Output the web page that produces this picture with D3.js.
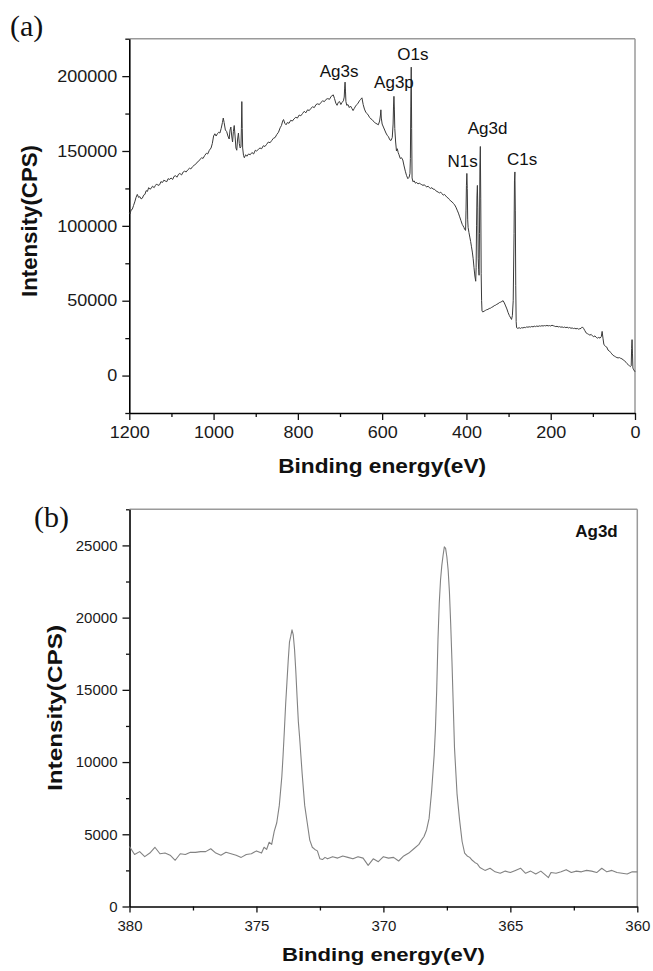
<!DOCTYPE html>
<html>
<head>
<meta charset="utf-8">
<script src="https://cdn.jsdelivr.net/npm/d3@7"></script>
<style>
  body { margin: 0; background: #fff; }
  svg { display: block; }
</style>
</head>
<body>
<div id="chart"></div>
<script>
// ---- (a) survey spectrum: [binding energy eV, intensity CPS]
const surveySpectrum = [
  [1200,109000],[1198,108000],[1196,110500],[1193,111000],[1190,113500],[1187,116000],[1184,119000],[1181,121000],
  [1178,119000],[1175,119500],[1172,118000],[1169,118500],[1166,120500],[1163,121000],[1160,123500],[1157,123000],
  [1154,125500],[1151,124500],[1148,125000],[1145,126500],[1141,125500],[1138,127000],[1135,128000],[1132,127000],
  [1128,127500],[1125,129500],[1121,129000],[1118,130500],[1115,130000],[1111,129500],[1108,131500],[1104,131000],
  [1101,132000],[1097,131000],[1094,133000],[1090,133500],[1087,132500],[1083,134500],[1080,135000],[1076,134000],
  [1072,136000],[1069,136500],[1065,136000],[1061,137500],[1057,138500],[1054,138000],[1050,139500],[1046,140500],
  [1043,141000],[1039,142500],[1036,143000],[1032,144500],[1028,145500],[1025,145000],[1021,147000],[1017,148500],
  [1014,148000],[1010,150500],[1006,152000],[1003,155000],[1000,160000],
  [997,161500],[994,160000],[991,161500],[988,162500],[985,162000],[982,165000],[979,169000],[977,172000],
  [975,169000],[972,164000],[969,163000],[966,160000],[963,158000],[961,164000],[959,166000],[957,160000],
  [955,156000],[953,163000],[951,167000],[949,160000],[947,152000],[945,150500],[943,158000],[941,162000],
  [939,155000],[937,152000],[935,153000],[934,165000],[933,183000],[932,165000],[931,152000],[929,147000],
  [927,145500],[924,147500],[921,146500],[917,148000],[913,147500],[909,149000],[905,148000],[901,150500],
  [898,150000],[894,151000],[890,152000],[886,151500],[882,153500],[878,153000],[874,154500],[870,156000],
  [866,155500],[862,157000],[858,158500],[854,159000],[850,161000],[846,162500],[842,165500],[839,167000],
  [836,170000],[834,171000],[831,168500],[828,167500],[825,169000],[821,168500],[817,170500],[813,170000],
  [809,171500],[805,172500],[801,172000],[797,174000],[793,173500],[789,175000],[785,176500],[781,175500],
  [777,177500],[773,177000],[769,178500],[765,179500],[761,179000],[757,181000],[753,181500],[749,181000],
  [745,182500],[741,183500],[737,183000],[733,184500],[729,185000],[725,184500],[721,186500],[716,187500],
  [713,185000],
  [710,182000],[707,180500],[704,182500],[701,183000],[698,181000],[695,182500],[692,183500],[690,186000],
  [689,192000],[688,196000],[687,190000],[686,183000],[684,180500],[681,181000],[678,179000],[675,180000],
  [672,178500],[669,177000],[666,178500],[663,180000],[660,181000],[657,182000],[654,183500],[651,184500],
  [648,185500],[645,181000],[642,178000],[639,176000],[636,175000],[633,174000],[630,172500],[627,171500],
  [624,171000],[621,170000],[618,169000],[615,168500],[612,168000],[609,167500],[606,170000],[604,174000],
  [603,177500],[602,172000],[600,168000],[597,166000],[594,164000],[591,162000],[588,160500],[585,159500],
  [582,157500],[579,157000],[576,159000],[574,168000],[573,180000],[572,186500],[571,178000],[570,165000],
  [568,156000],[566,150000],[564,151500],[562,149000],[560,147500],[557,145000],[554,145500],[551,144000],
  [548,140000],[545,136500],[542,133500],[539,131500],[536,132500],[534,135000],[533,145000],[532,180000],
  [531,206000],[530,165000],[529,132000],[527,129500],[524,130000],[521,128500],[518,129000],[515,128000],
  [512,128500],[509,128000],[506,127500],[503,127000],[500,127500],[497,126500],[494,126000],[491,126500],
  [488,125500],[485,125000],[482,125500],[479,124500],[476,124500],[473,123500],[470,123000],[467,122500],
  [464,122000],[461,122500],[458,121500],[455,120500],[452,121000],[449,120000],[446,119000],[443,118500],
  [440,117500],[437,116500],[434,116000],[431,115000],[428,114000],[425,112500],[422,110500],[419,108500],
  [416,106000],[413,103500],[410,101000],[408,100000],[406,99000],[404,97500],[402,97000],[401,110000],
  [400,127000],[399,135000],[398,125000],[397,104000],[396,99000],[394,95500],[392,92500],[390,89500],
  [388,86000],[386,82500],[384,78000],[382,72000],[380,66500],[378,63000],[377,72000],[376,100000],
  [375,120000],[374,127000],[373,112000],[372,78000],[371,71000],[370,67000],[369,95000],[368,140000],
  [367,153000],[366,118000],[365,68000],[364,50000],[363,43000],[361,42500],[358,43000],[355,43500],
  [352,44000],[349,44200],[346,44800],[343,45000],[340,45600],[337,46000],[334,46700],[331,47000],
  [328,47600],[325,48000],[322,48700],[319,49000],[316,49500],[313,50000],[310,48500],[307,46500],
  [304,44500],[301,42000],[298,40000],[295,38500],[293,37500],[291,40000],[289,50000],[287,95000],
  [286,130000],[285,136000],[284,110000],[283,60000],[282,36000],[281,32000],[278,31500],[275,32000],
  [272,31500],[269,32000],[266,31800],[263,32200],[260,32000],[257,32500],[254,32300],[251,32600],
  [248,32400],[245,32800],[242,32500],[239,33000],[236,32700],[233,33100],[230,32800],[227,33200],
  [224,33000],[221,33300],[218,33100],[215,33400],[212,33200],[209,33500],[206,33200],[203,33400],
  [200,33100],[197,33600],[194,33300],[191,33000],[188,32700],[185,32900],[182,32500],[179,32700],
  [176,32300],[173,32500],[170,32100],[167,32400],[164,32000],[161,32300],[158,31800],[155,32100],
  [152,31600],[149,31800],[146,31400],[143,31600],[140,31200],[137,31500],[134,31000],[131,31300],
  [128,31500],[125,32500],[122,31500],[119,30000],[116,28500],[113,28000],[110,27500],[107,27000],
  [104,27500],[101,26500],[98,26000],[95,26500],[92,25500],[89,25000],[86,25500],[83,25000],
  [80,26000],[78,29500],[76,25000],[74,21000],[72,20000],[70,19500],[67,19000],[64,17000],
  [61,16500],[58,15500],[55,14500],[52,13500],[49,13000],[46,12500],[43,12000],[40,11800],
  [37,12000],[34,11500],[31,11200],[28,10500],[25,10000],[22,9000],[19,8000],[16,7200],
  [13,6500],[11,6000],[9,6500],[8,18000],[7,24000],[6,15000],[5,5000],[3,3800],[1,3000],[0,2500]
];
const surveyXTicks = [1200, 1000, 800, 600, 400, 200, 0];
const surveyXMinor = [1100, 900, 700, 500, 300, 100];
const surveyYTicks = [0, 50000, 100000, 150000, 200000];
const surveyYMinor = [-25000, 25000, 75000, 125000, 175000, 225000];
const peakNames = ["Ag3s", "Ag3p", "O1s", "N1s", "Ag3d", "C1s"];
const peakLabelEnergy = [702, 572, 527, 409, 350, 268];
const peakLabelIntensity = [199300, 192000, 210700, 139300, 161300, 140700];

// ---- (b) Ag3d high resolution spectrum
const ag3dSpectrum = [
  [380.0,4150],[379.8,3600],[379.6,3800],[379.4,3450],[379.2,3700],[379.0,4100],[378.8,3650],[378.6,3700],
  [378.4,3550],[378.2,3200],[378.0,3650],[377.8,3600],[377.6,3750],[377.4,3750],[377.2,3800],[377.0,3800],
  [376.8,4000],[376.6,3700],[376.4,3550],[376.2,3750],[376.0,3650],[375.8,3550],[375.6,3400],[375.4,3600],
  [375.2,3650],[375.0,3850],[374.8,3700],[374.7,4100],[374.6,3950],[374.5,4450],[374.4,4300],[374.3,5200],
  [374.2,5800],[374.1,7000],[374.0,9000],[373.95,10500],[373.9,12200],[373.85,14000],[373.8,15500],
  [373.75,17000],[373.7,18300],[373.65,18700],[373.6,19150],[373.55,18800],[373.5,17800],[373.45,16300],
  [373.4,14500],[373.35,12800],[373.3,11700],[373.2,9200],[373.1,7000],[373.0,5800],[372.9,4600],
  [372.8,4100],[372.7,3950],[372.6,3850],[372.5,3300],[372.4,3250],[372.3,3400],[372.2,3300],[372.0,3450],
  [371.8,3350],[371.6,3500],[371.4,3400],[371.2,3300],[371.0,3450],[370.8,3350],[370.6,2850],[370.4,3300],
  [370.2,3100],[370.0,3450],[369.8,3350],[369.6,3400],[369.4,3150],[369.2,3500],[369.0,3700],[368.8,4000],
  [368.6,4300],[368.5,4600],[368.4,4850],[368.3,5300],[368.2,6100],[368.1,8000],[368.0,10500],
  [367.95,12300],[367.9,15000],[367.85,18500],[367.8,21000],[367.75,22600],[367.7,23600],[367.65,24300],
  [367.6,24900],[367.55,24800],[367.5,24200],[367.45,23300],[367.4,21800],[367.35,19600],[367.3,17000],
  [367.25,14000],[367.2,11000],[367.1,7800],[367.0,6000],[366.9,4500],[366.8,3700],[366.7,3500],
  [366.6,3400],[366.5,3200],[366.4,3050],[366.3,2950],[366.2,2700],[366.0,2500],[365.8,2650],[365.6,2400],
  [365.4,2300],[365.2,2450],[365.0,2350],[364.8,2500],[364.6,2650],[364.4,2300],[364.2,2450],[364.0,2250],
  [363.8,2450],[363.6,2150],[363.5,2000],[363.4,2350],[363.2,2300],[363.0,2400],[362.8,2550],[362.6,2350],
  [362.4,2450],[362.2,2400],[362.0,2500],[361.8,2450],[361.6,2350],[361.4,2650],[361.2,2400],[361.0,2500],
  [360.8,2350],[360.6,2300],[360.4,2250],[360.2,2400],[360.0,2400]
];
const ag3dXTicks = [380, 375, 370, 365, 360];
const ag3dXMinor = [377.5, 372.5, 367.5, 362.5];
const ag3dYTicks = [0, 5000, 10000, 15000, 20000, 25000];
const ag3dYMinor = [2500, 7500, 12500, 17500, 22500, 27500];
const ag3dLabel = { text: "Ag3d", energy: 360.77, intensity: 25600 };

const width = 653, height = 971;
const svg = d3.select("#chart").append("svg")
  .attr("width", width)
  .attr("height", height);

function drawPanel(p) {
  const x = d3.scaleLinear().domain(p.xDomain).range([p.left, p.right]);
  const y = d3.scaleLinear().domain(p.yDomain).range([p.bottom, p.top]);
  const g = svg.append("g");

  // grey top / right frame
  g.append("line").attr("x1", p.left).attr("x2", p.right).attr("y1", p.top).attr("y2", p.top)
    .attr("stroke", "#9a9a9a").attr("stroke-width", 1.5);
  g.append("line").attr("x1", p.right).attr("x2", p.right).attr("y1", p.top).attr("y2", p.bottom)
    .attr("stroke", "#9a9a9a").attr("stroke-width", 1.5);

  // minor ticks
  g.append("g").attr("transform", `translate(0,${p.bottom})`)
    .call(d3.axisBottom(x).tickValues(p.xMinor).tickSize(p.minorX).tickFormat(""))
    .call(a => a.select(".domain").remove());
  g.append("g").attr("transform", `translate(${p.left},0)`)
    .call(d3.axisLeft(y).tickValues(p.yMinor).tickSize(p.minorY).tickFormat(""))
    .call(a => a.select(".domain").remove());

  // main axes
  const xAxis = g.append("g").attr("transform", `translate(0,${p.bottom})`)
    .call(d3.axisBottom(x).tickValues(p.xTicks).tickSize(p.majorX).tickSizeOuter(0).tickPadding(p.padX).tickFormat(d3.format("d")));
  const yAxis = g.append("g").attr("transform", `translate(${p.left},0)`)
    .call(d3.axisLeft(y).tickValues(p.yTicks).tickSize(p.majorY).tickSizeOuter(0).tickPadding(p.padY).tickFormat(d3.format("d")));

  g.selectAll(".tick line").attr("stroke", "#111").attr("stroke-width", 1.3);
  [xAxis, yAxis].forEach(a => {
    a.select(".domain").attr("stroke", "#000").attr("stroke-width", 1.6);
    a.selectAll("text")
      .attr("fill", "#1a1a1a")
      .style("font-family", "'Liberation Sans', Arial, sans-serif")
      .style("font-size", p.tickFont + "px");
  });
  if (p.charW) {
    xAxis.selectAll("text").attr("textLength", d => String(d).length * p.charW).attr("lengthAdjust", "spacingAndGlyphs");
    yAxis.selectAll("text").attr("textLength", d => String(d).length * p.charW).attr("lengthAdjust", "spacingAndGlyphs");
  }

  // spectrum
  const line = d3.line().x(d => x(d[0])).y(d => y(d[1]));
  g.append("path")
    .datum(p.data)
    .attr("fill", "none")
    .attr("stroke", p.lineColor)
    .attr("stroke-width", p.lineWidth)
    .attr("stroke-linejoin", "round")
    .attr("d", line);

  // axis titles
  g.append("text")
    .attr("x", (p.left + p.right) / 2)
    .attr("y", p.xTitleY)
    .attr("text-anchor", "middle")
    .attr("textLength", p.xTitleLen).attr("lengthAdjust", "spacingAndGlyphs")
    .style("font-family", "'Liberation Sans', Arial, sans-serif")
    .style("font-weight", "bold")
    .style("font-size", p.xTitleFont + "px")
    .attr("fill", "#111")
    .text("Binding energy(eV)");
  g.append("text")
    .attr("transform", `translate(${p.yTitleX},${p.yTitleCy}) rotate(-90)`)
    .attr("text-anchor", "middle")
    .attr("textLength", p.yTitleLen).attr("lengthAdjust", "spacingAndGlyphs")
    .style("font-family", "'Liberation Sans', Arial, sans-serif")
    .style("font-weight", "bold")
    .style("font-size", p.yTitleFont + "px")
    .attr("fill", "#111")
    .text("Intensity(CPS)");

  // panel letter
  g.append("text")
    .attr("x", p.letterX).attr("y", p.letterY)
    .style("font-family", "'Liberation Serif', 'Times New Roman', serif")
    .style("font-size", p.letterFont + "px")
    .attr("fill", "#111")
    .text(p.letter);

  return { g, x, y };
}

const a = drawPanel({
  left: 129.3, right: 635, top: 38.7, bottom: 413,
  xDomain: [1200, 0], yDomain: [-25000, 225000],
  xTicks: surveyXTicks, xMinor: surveyXMinor, yTicks: surveyYTicks, yMinor: surveyYMinor,
  majorX: 7, minorX: 4, majorY: 7, minorY: 4, padX: 6.5, padY: 5,
  tickFont: 16.5, charW: 10,
  data: surveySpectrum, lineColor: "#3a3a3a", lineWidth: 1,
  xTitleY: 473, xTitleLen: 208, xTitleFont: 20,
  yTitleX: 37, yTitleCy: 221, yTitleLen: 152, yTitleFont: 22,
  letter: "(a)", letterX: 10, letterY: 36, letterFont: 30
});

a.g.selectAll("text.peak")
  .data(peakNames)
  .enter()
  .append("text")
  .attr("class", "peak")
  .attr("x", (d, i) => a.x(peakLabelEnergy[i]))
  .attr("y", (d, i) => a.y(peakLabelIntensity[i]))
  .attr("text-anchor", "middle")
  .style("font-family", "'Liberation Sans', Arial, sans-serif")
  .style("font-size", "17px")
  .attr("fill", "#111")
  .text(d => d);

const b = drawPanel({
  left: 129.5, right: 637.3, top: 509.3, bottom: 906.5,
  xDomain: [380, 360], yDomain: [0, 27500],
  xTicks: ag3dXTicks, xMinor: ag3dXMinor, yTicks: ag3dYTicks, yMinor: ag3dYMinor,
  majorX: 6, minorX: 4, majorY: 7, minorY: 3.5, padX: 7.5, padY: 5,
  tickFont: 15, charW: 0,
  data: ag3dSpectrum, lineColor: "#828282", lineWidth: 1.1,
  xTitleY: 961, xTitleLen: 203, xTitleFont: 19,
  yTitleX: 62, yTitleCy: 708, yTitleLen: 166, yTitleFont: 20,
  letter: "(b)", letterX: 34, letterY: 527, letterFont: 30
});

b.g.append("text")
  .attr("x", b.x(ag3dLabel.energy))
  .attr("y", b.y(ag3dLabel.intensity))
  .attr("text-anchor", "end")
  .style("font-family", "'Liberation Sans', Arial, sans-serif")
  .style("font-weight", "bold")
  .style("font-size", "17px")
  .attr("fill", "#111")
  .text(ag3dLabel.text);
</script>
</body>
</html>
